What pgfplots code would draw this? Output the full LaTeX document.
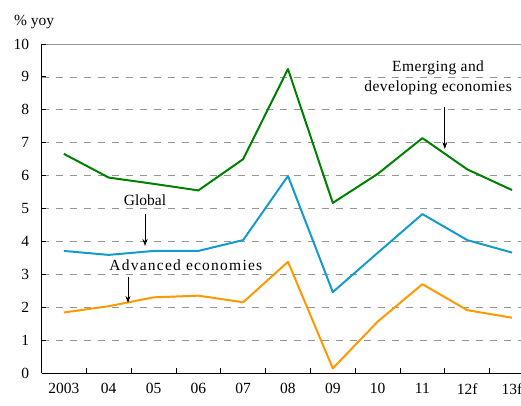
\documentclass[border=0pt]{standalone}
\usepackage{fontspec}
\setmainfont{Liberation Serif}
\usepackage{pgfplots}
\pgfplotsset{compat=1.18}
\usetikzlibrary{arrows.meta}
\definecolor{cgreen}{RGB}{0,128,0}
\definecolor{cblue}{RGB}{20,155,205}
\definecolor{corange}{RGB}{255,153,0}
\definecolor{cgrid}{RGB}{150,150,150}
\begin{document}
\begin{tikzpicture}
\fontsize{15.5}{18}\selectfont
\begin{axis}[
  at={(41.5pt,32pt)}, anchor=south west,
  scale only axis, width=479.5pt, height=329pt,
  xmin=-0.5, xmax=10.2, ymin=0, ymax=10,
  axis x line=bottom, axis y line=left,
  axis line style={-, black, line width=0.9pt},
  xtick={0,...,10},
  xticklabels={2003,04,05,06,07,08,09,10,11,12f,13f},
  minor xtick={0.5,1.5,...,9.5},
  major x tick style={draw=none},
  minor x tick style={black, line width=0.8pt},
  minor tick length=5pt,
  tick align=inside,
  ytick={0,...,9},
  extra y ticks={10},
  extra y tick style={major grid style={solid, cgrid, line width=0.8pt}},
  y tick style={black, line width=0.8pt},
  major tick length=4pt,
  ymajorgrids,
  major grid style={cgrid, line width=0.7pt, dash pattern=on 7pt off 7pt},
  /pgf/number format/assume math mode=true,
  ticklabel style={font=\fontsize{15.5}{18}\selectfont},
  xticklabel style={yshift=-5pt},
  yticklabel style={xshift=-7pt},
  clip=false,
  every axis plot/.append style={line width=2pt, no markers, line join=round},
]
\addplot[cgreen] coordinates {(0,6.66)(1,5.94)(2,5.75)(3,5.55)(4,6.50)(5,9.24)(6,5.17)(7,6.05)(8,7.14)(9,6.19)(10,5.56)};
\addplot[cblue] coordinates {(0,3.71)(1,3.59)(2,3.71)(3,3.71)(4,4.04)(5,5.99)(6,2.46)(7,3.65)(8,4.83)(9,4.04)(10,3.66)};
\addplot[corange] coordinates {(0,1.84)(1,2.03)(2,2.30)(3,2.35)(4,2.15)(5,3.38)(6,0.14)(7,1.56)(8,2.70)(9,1.91)(10,1.68)};
\node[align=center, inner sep=0pt, font=\fontsize{15.5}{20}\selectfont\addfontfeatures{LetterSpace=3}] at (axis cs:8.35,8.96) {Emerging and\\developing economies};
\draw[-{Stealth[length=7pt,width=5pt]}, line width=0.9pt] (axis cs:8.5,8.09) -- (axis cs:8.5,6.81);
\node[inner sep=0pt] at (axis cs:1.81,5.26) {Global};
\draw[-{Stealth[length=7pt,width=5pt]}, line width=0.9pt] (axis cs:1.81,4.83) -- (axis cs:1.81,3.86);
\node[inner sep=0pt, font=\fontsize{15.5}{18}\selectfont\addfontfeatures{LetterSpace=8}] at (axis cs:2.72,3.28) {Advanced economies};
\draw[-{Stealth[length=7pt,width=5pt]}, line width=0.9pt] (axis cs:1.43,2.92) -- (axis cs:1.43,2.13);
\end{axis}
\node[anchor=west, inner sep=0pt] at (14pt,383pt) {\% yoy};
\pgfresetboundingbox
\path[use as bounding box] (0,0) rectangle (521pt,405pt);
\end{tikzpicture}
\end{document}
